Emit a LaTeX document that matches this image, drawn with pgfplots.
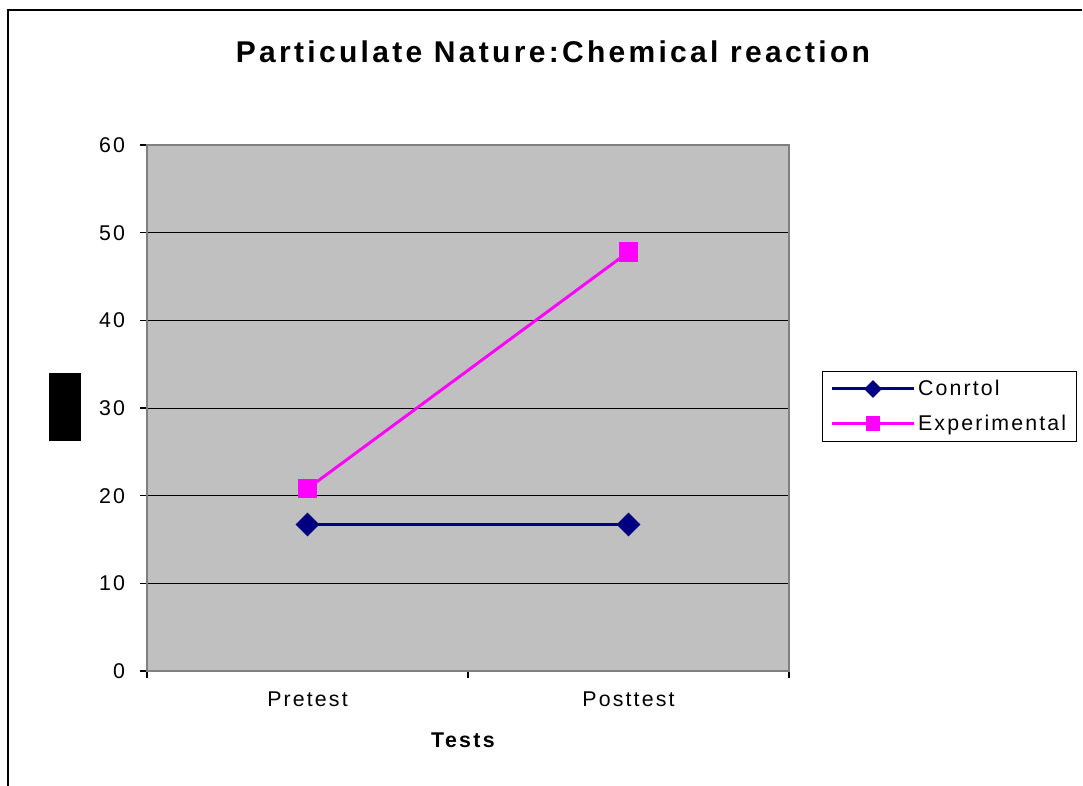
\documentclass[border=0pt]{standalone}
\usepackage{pgfplots}
\pgfplotsset{compat=1.18}
\usepackage{fontspec}
\setmainfont{Liberation Sans}
\newfontfamily\ls[LetterSpace=10]{Liberation Sans}
\newfontfamily\lt[LetterSpace=11]{Liberation Sans}
\definecolor{plotgray}{HTML}{C0C0C0}
\definecolor{bordergray}{HTML}{808080}
\definecolor{navy}{HTML}{000080}
\definecolor{mag}{HTML}{FF00FF}
\begin{document}
\begin{tikzpicture}[x=0.75pt,y=0.75pt]
\path[use as bounding box] (0,0) rectangle (1083,786);
\draw[line width=1.2pt] (8,0) -- (8,776) -- (1082,776);
\fill[black] (49,345) rectangle (81,413);
\coordinate (A) at (147,115);
\node[font=\fontsize{22.5}{26}\selectfont\lt\bfseries] at (553,734) {Particulate Nature:Chemical reaction};
\node[font=\fontsize{16}{19}\selectfont\lt\bfseries] at (463,46) {Tests};
\begin{axis}[
  at={(A)}, anchor=south west,
  scale only axis, width=481.5pt, height=394.5pt,
  xmin=0, xmax=2, ymin=0, ymax=60,
  axis background/.style={fill=plotgray},
  axis line style={draw=bordergray, line width=1.5pt},
  xtick={0.5,1.5}, xticklabels={Pretest,Posttest},
  minor xtick={0,1,2},
  ytick={0,10,...,60},
  xtick pos=lower, ytick pos=left,
  ymajorgrids, grid style={black, line width=0.7pt},
  tick align=outside,
  major x tick style={draw=none},
  minor x tick style={black, line width=0.8pt},
  minor tick length=5pt,
  major tick length=5pt,
  y tick style={black, line width=0.8pt},
  /pgf/number format/assume math mode=true,
  tick label style={font=\fontsize{16}{19}\selectfont\ls},
  yticklabel style={xshift=-8pt},
  xticklabel style={yshift=-7pt},
  legend style={at={(axis description cs:1.0514,0.5703)}, anchor=north west,
    draw=black, line width=0.8pt, font=\fontsize{16}{19}\selectfont\ls,
    inner xsep=6pt, inner ysep=4.5pt, row sep=9pt},
  legend cell align=left,
  legend image code/.code={\draw[mark repeat=2,mark phase=2,every mark/.append style={scale=0.7}] plot coordinates {(0pt,0pt) (30.75pt,0pt) (61.5pt,0pt)};},
]
\addplot[navy, line width=2.2pt, mark=square*, mark size=5.2pt, mark options={rotate=45, solid}] coordinates {(0.5,16.7) (1.5,16.7)};
\addlegendentry{Conrtol}
\addplot[mag, line width=2.2pt, mark=square*, mark size=6.2pt, mark options={solid}] coordinates {(0.5,20.8) (1.5,47.8)};
\addlegendentry{Experimental}
\end{axis}
\end{tikzpicture}
\end{document}
